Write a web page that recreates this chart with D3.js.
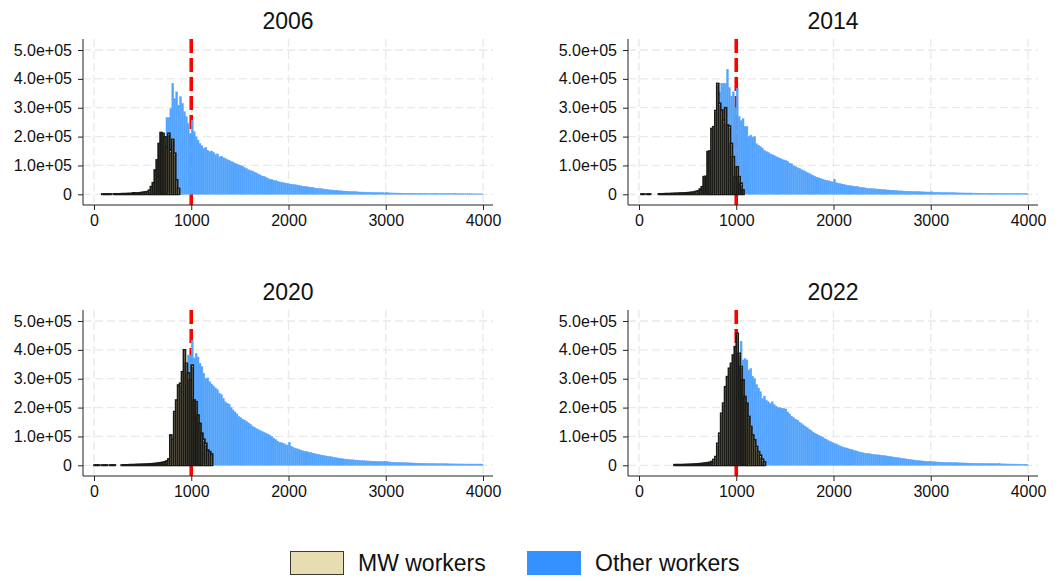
<!DOCTYPE html>
<html>
<head>
<meta charset="utf-8">
<script src="https://cdn.jsdelivr.net/npm/d3@7"></script>
<style>
body { margin: 0; background: #fff; }
text { font-family: "Liberation Sans", Arial, Helvetica, sans-serif; fill: #111; }
</style>
</head>
<body>
<svg id="chart" width="1059" height="581"></svg>
<script>
// bins are 20 wide, counts in thousands
var BIN = 20;
var years = ["2006", "2014", "2020", "2022"];
var xTicks = [0, 1000, 2000, 3000, 4000];
var yTicks = [0, 1e5, 2e5, 3e5, 4e5, 5e5];
var minWage = 1000;

var mwStart = [80, 20, 0, 360];
var mw2006 = [1, 1, 1, 1, 1, 0,
	1.5, 1.5, 1.5, 1.5, 2, 2, 2, 2.5, 2.5, 3,
	5, 4, 4, 5, 6, 7, 8, 9,
	14, 26.5, 40, 84, 119, 176, 214, 211, 199, 165, 211, 153, 190, 142, 50, 20];
var mw2014 = [1, 1, 0, 1, 1, 0, 0, 0, 0,
	1.5, 1.5, 1.5, 2, 2, 2, 2.5, 2.5, 3, 3,
	3.5, 4, 4, 4.5, 5, 5.5, 6, 7, 8, 10,
	12, 18, 26, 61, 62, 148, 150, 228, 234, 290,
	384, 315, 292, 257, 300, 240, 236, 176, 130, 61,
	95, 61, 38, 15];
var mw2020 = [1, 1, 1, 0, 1, 1, 1, 0, 1, 1,
	1, 0, 0, 0, 1, 1.5, 1.5, 1.5, 2, 2,
	2, 2.5, 2.5, 3, 3, 3.5, 3.5, 4, 4.5, 5,
	5.5, 6, 7, 8, 9, 10, 12, 15, 22, 105,
	88, 186, 226, 278, 284, 324, 400, 353, 320, 296,
	347, 226, 220, 174, 145, 111, 90, 76, 53, 47,
	39];
var mw2022 = [2, 2, 2, 2, 2, 2.5, 2.5, 3, 3, 3.5,
	4, 4, 5, 5.5, 6, 7, 8, 9, 10, 13,
	20, 30, 76, 111, 180, 215, 272, 307, 336, 353,
	382, 411, 457, 388, 342, 296, 238, 215, 169, 134,
	105, 88, 65, 47, 35, 21, 12];

var othStart = [740, 820, 960, 1020];
var oth2006 = [266, 266, 297, 384, 332, 355, 309, 338, 315, 286, 269, 246, 211,
	257, 217, 199, 188, 176, 168, 159, 163, 152, 148,
	150, 145, 138, 140, 130, 132, 127, 124, 120, 118,
	113, 112, 108, 105, 102, 99, 97, 93, 89, 85,
	82, 81, 77, 74, 70, 67, 63, 62, 58, 55,
	52, 51, 48, 47, 45, 43, 42, 40, 39, 38,
	36, 35, 34, 33, 32, 31, 29, 28, 27, 26,
	25, 24, 23, 22, 21, 20, 20, 19, 18, 17,
	16, 15, 15, 14, 14, 13, 12, 12, 11, 11,
	10, 10, 9.5, 9, 9, 8.5, 8, 8, 7.5, 7.5,
	7, 7, 6.5, 6.5, 6, 6, 6, 5.5, 5.5, 5,
	7, 5, 4.8, 4.6, 4.5, 4.4, 4.2, 4, 4, 3.8,
	3.8, 3.6, 3.5, 3.4, 3.3, 3.2, 3.1, 3, 3, 2.9,
	2.9, 2.8, 2.7, 2.6, 2.6, 3.5, 2.5, 2.4, 2.4, 2.3,
	2.3, 2.2, 2.2, 2.1, 2.1, 2, 2, 2, 1.9, 1.9,
	1.9, 1.8, 1.8, 1.8, 1.7, 1.7, 1.7, 1.6, 1.6, 1.6];
var oth2014 = [355, 385, 385, 385, 433, 370, 340, 355, 300, 367,
	270, 255, 262, 235, 236, 200, 205, 197, 200, 175,
	170, 165, 160, 152, 148, 145, 140, 137, 135, 130,
	128, 125, 122, 119, 117, 113, 108, 106, 100, 96,
	92, 90, 86, 83, 79, 75, 72, 68, 65, 62,
	59, 57, 54, 52, 50, 48, 47, 45, 43, 52,
	40, 38, 37, 35, 34, 32, 31, 30, 29, 28,
	27, 26, 25, 24, 23, 22, 21, 20, 20, 19,
	19, 18, 18, 17, 16, 16, 15, 15, 14, 14,
	13, 13, 12, 12, 11.5, 11, 11, 10.5, 10, 10,
	9.5, 9.5, 9, 9, 8.5, 8.5, 8, 8, 7.5, 9,
	7, 7, 6.8, 6.6, 6.4, 6.2, 6, 5.8, 5.6, 5.4,
	5.3, 5.2, 5, 4.9, 4.8, 4.7, 4.6, 4.5, 4.4, 4.8,
	4.2, 4.1, 4, 3.9, 3.8, 3.7, 3.6, 3.5, 3.5, 3.4,
	3.3, 3.3, 3.2, 3.1, 3.1, 3, 3, 2.9, 2.9, 2.8,
	2.8, 2.7, 2.7, 2.6, 2.6, 2.5, 2.5, 2.4, 2.4];
var oth2020 = [382, 382, 434, 372, 388, 375, 353, 342, 319, 300,
	303, 290, 282, 275, 268, 262, 250, 245, 232, 220,
	215, 212, 200, 192, 185, 178, 169, 165, 160, 157,
	152, 147, 142, 136, 132, 127, 124, 120, 117, 114,
	111, 108, 104, 99, 94, 89, 84, 80, 78, 76,
	72, 70, 80, 66, 62, 59, 57, 55, 52, 50,
	48, 47, 45, 44, 42, 41, 39, 38, 36, 35,
	33, 32, 31, 30, 29, 27, 26, 25, 24, 23,
	22, 21, 20, 20, 19, 19, 18, 18, 17, 16,
	16, 15.5, 15, 15, 14.5, 14, 14, 13.5, 13, 13,
	12.8, 12.5, 14, 12, 11.5, 11, 10.5, 10, 10, 9.5,
	9.5, 9, 9, 8.5, 8.5, 8, 8, 7.5, 7.5, 7,
	7, 7, 6.8, 6.6, 6.4, 6.2, 6, 6, 5.8, 5.6,
	5.5, 5.4, 5.3, 5.2, 5.1, 5, 4.9, 4.8, 4.8, 4.7,
	4.7, 4.6, 4.6, 4.5, 4.5, 4.4, 4.4, 4.3, 4.3, 4.2,
	4.6, 4.2];
var oth2022 = [380, 430, 365, 370, 365, 330, 335, 307, 301, 280,
	268, 255, 232, 240, 225, 220, 215, 220, 210, 205,
	200, 200, 198, 197, 195, 185, 178, 170, 165, 160,
	157, 150, 145, 140, 135, 130, 125, 120, 115, 111,
	108, 104, 100, 97, 93, 89, 85, 82, 79, 76,
	74, 70, 67, 64, 62, 60, 58, 56, 54, 52,
	50, 48, 46, 45, 43, 42, 41, 40, 39, 38,
	37, 36, 36, 35, 34, 33, 32, 31, 30, 29,
	28, 27, 26, 25, 24, 23, 22, 21, 20, 19,
	18, 17, 16.5, 16, 15, 14.5, 14, 13.5, 13, 12.7,
	12.5, 12, 11.5, 11, 11, 10.5, 10, 10, 9.5, 9.5,
	9, 9, 8.8, 8.6, 8.4, 8.2, 8, 7.8, 7.6, 7.4,
	7.2, 7, 7, 6.8, 6.6, 6.5, 6.4, 6.2, 6, 5.9,
	5.8, 5.6, 5.5, 5.4, 5.2, 5, 4.9, 4.8, 4.6, 4.5,
	4.4, 4.3, 4.2, 4, 3.9, 3.8, 3.7, 3.6, 3.5];

var mwSeries = [mw2006, mw2014, mw2020, mw2022];
var othSeries = [oth2006, oth2014, oth2020, oth2022];

var MW_FILL = "#e8ddb0", OTH_FILL = "#52a3fd", LEG_BLUE = "#3591ff";

var svg = d3.select("#chart");

function to_bins(start, vals) {
	return vals.map(function (v, i) {
		return {x0: start + i*BIN, x1: start + (i+1)*BIN, n: v*1000};
	}).filter(function (d) { return d.n > 0; });
}

function fmt_y(v) {
	return v == 0 ? "0" : (v/1e5).toFixed(1) + "e+05";
}

function draw_panel(k) {
	var dx = (k % 2) * 545, dy = Math.floor(k / 2) * 271;
	var g = svg.append("g").attr("transform", "translate(" + dx + "," + dy + ")");

	var left = 83, right = 493, top = 39, bottom = 205;
	var x = d3.scaleLinear().domain([0, 4000]).range([94, 483]);
	var y = d3.scaleLinear().domain([0, 5e5]).range([194.3, 50]);

	// grid
	g.selectAll(".hgrid").data(yTicks).enter().append("line")
		.attr("x1", left).attr("x2", right)
		.attr("y1", function (d) { return y(d); }).attr("y2", function (d) { return y(d); })
		.attr("stroke", "#e9e9e9").attr("stroke-width", 1.3).attr("stroke-dasharray", "8,4");
	g.selectAll(".vgrid").data(xTicks).enter().append("line")
		.attr("y1", top).attr("y2", bottom)
		.attr("x1", function (d) { return x(d); }).attr("x2", function (d) { return x(d); })
		.attr("stroke", "#e9e9e9").attr("stroke-width", 1.3).attr("stroke-dasharray", "8,4");

	// minimum wage line, under the bars
	g.append("line")
		.attr("x1", x(minWage)).attr("x2", x(minWage)).attr("y1", top).attr("y2", bottom)
		.attr("stroke", "#ff0000").attr("stroke-width", 3.6).attr("stroke-dasharray", "14,5");

	var oth = to_bins(othStart[k], othSeries[k]);
	g.append("g").selectAll("rect").data(oth).enter().append("rect")
		.attr("x", function (d) { return x(d.x0); })
		.attr("width", function (d) { return x(d.x1) - x(d.x0); })
		.attr("y", function (d) { return y(d.n); })
		.attr("height", function (d) { return y(0) - y(d.n); })
		.attr("fill", OTH_FILL).attr("stroke", "#5aa8fd").attr("stroke-width", 0.4);

	var mw = to_bins(mwStart[k], mwSeries[k]);
	g.append("g").selectAll("rect").data(mw).enter().append("rect")
		.attr("x", function (d) { return x(d.x0); })
		.attr("width", function (d) { return x(d.x1) - x(d.x0); })
		.attr("y", function (d) { return y(d.n); })
		.attr("height", function (d) { return y(0) - y(d.n); })
		.attr("fill", MW_FILL).attr("stroke", "#1a1a16").attr("stroke-width", 1.75);

	// axes
	var xa = g.append("g").attr("transform", "translate(0," + bottom + ")")
		.call(d3.axisBottom(x).tickValues(xTicks).tickSize(5).tickPadding(5).tickFormat(d3.format("d")));
	var ya = g.append("g").attr("transform", "translate(" + left + ",0)")
		.call(d3.axisLeft(y).tickValues(yTicks).tickSize(5).tickPadding(6).tickFormat(fmt_y));
	[xa, ya].forEach(function (a) {
		a.select(".domain").remove();
		a.selectAll("text").attr("font-size", 16).attr("fill", "#111")
			.style("font-family", "'Liberation Sans', Arial, sans-serif");
		a.selectAll("line").attr("stroke", "#222");
	});
	g.append("line").attr("x1", left).attr("x2", right).attr("y1", bottom).attr("y2", bottom)
		.attr("stroke", "#222");
	g.append("line").attr("x1", left).attr("x2", left).attr("y1", top).attr("y2", bottom)
		.attr("stroke", "#222");

	g.append("text").attr("x", (left + right)/2).attr("y", 29)
		.attr("text-anchor", "middle").attr("font-size", 23).text(years[k]);
}

years.forEach(function (yr, k) { draw_panel(k); });

// legend
var leg = [{label: "MW workers", fill: MW_FILL, stroke: "#3a3a30", x: 290},
	{label: "Other workers", fill: LEG_BLUE, stroke: LEG_BLUE, x: 527}];
var lg = svg.append("g").selectAll("g").data(leg).enter().append("g");
lg.append("rect").attr("x", function (d) { return d.x + 0.5; }).attr("y", 551.5)
	.attr("width", 53).attr("height", 23)
	.attr("fill", function (d) { return d.fill; }).attr("stroke", function (d) { return d.stroke; });
lg.append("text").attr("x", function (d) { return d.x + 68; }).attr("y", 571)
	.attr("font-size", 23).text(function (d) { return d.label; });
</script>
</body>
</html>
